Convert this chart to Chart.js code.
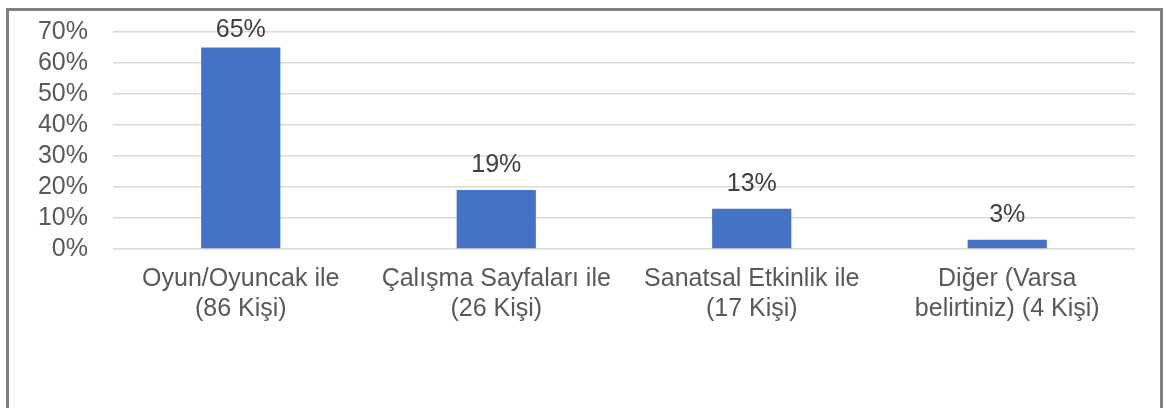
<!DOCTYPE html>
<html>
<head>
<meta charset="utf-8">
<script src="https://cdn.jsdelivr.net/npm/chart.js@4"></script>
<style>
  body { margin: 0; background: #fff; }
  #wrap { position: relative; width: 1168px; height: 408px; }
  #frame { position: absolute; left: 6px; top: 8px; width: 1151px; height: 420px; border: 3px solid #7f7f7f; pointer-events: none; }
</style>
</head>
<body>
<div id="wrap">
  <canvas id="myChart" width="1168" height="408"></canvas>
  <div id="frame"></div>
</div>
<script>
// kategoriler ve yuzdeler
var categories = [
  ['Oyun/Oyuncak ile', '(86 Kişi)'],
  ['Çalışma Sayfaları ile', '(26 Kişi)'],
  ['Sanatsal Etkinlik ile', '(17 Kişi)'],
  ['Diğer (Varsa', 'belirtiniz) (4 Kişi)']
];
var percents = [65, 19, 13, 3];
var yTicks = [0, 10, 20, 30, 40, 50, 60, 70];

var fontFam = '"Liberation Sans", Arial, sans-serif';

// bar ustune yuzde yaz
var valueLabels = {
  id: 'valueLabels',
  afterDatasetsDraw(chart) {
    var ctx = chart.ctx;
    var meta = chart.getDatasetMeta(0);
    ctx.save();
    ctx.font = '25px ' + fontFam;
    ctx.fillStyle = '#404040';
    ctx.textAlign = 'center';
    ctx.textBaseline = 'alphabetic';
    meta.data.forEach(function (bar, i) {
      var y = Math.max(bar.y - 18, chart.chartArea.top + 5);
      ctx.fillText(percents[i] + '%', bar.x, y);
    });
    ctx.restore();
  }
};

var ctx = document.getElementById('myChart').getContext('2d');
var myChart = new Chart(ctx, {
  type: 'bar',
  data: {
    labels: categories,
    datasets: [{
      data: percents,
      backgroundColor: '#4472C4',
      categoryPercentage: 1,
      barPercentage: 0.31
    }]
  },
  options: {
    responsive: false,
    animation: false,
    layout: { padding: { left: 0, top: 32, right: 33, bottom: 0 } },
    plugins: {
      legend: { display: false },
      tooltip: { enabled: false }
    },
    scales: {
      x: {
        grid: { display: false, drawTicks: false },
        border: { display: false },
        ticks: {
          color: '#595959',
          font: { family: fontFam, size: 25, lineHeight: 1.2 },
          padding: 15,
          maxRotation: 0,
          autoSkip: false
        },
        afterFit: function (s) { s.height = 159; }
      },
      y: {
        min: 0,
        max: 70,
        afterBuildTicks: function (s) { s.ticks = yTicks.map(function (v) { return { value: v }; }); },
        grid: { color: '#d9d9d9', lineWidth: 1.5, drawTicks: false },
        border: { display: false },
        ticks: {
          color: '#595959',
          font: { family: fontFam, size: 25 },
          padding: 25,
          autoSkip: false,
          callback: function (v) { return v + '%'; }
        },
        afterFit: function (s) {
          s.width = 113;
          s.paddingTop = 0;
          s.paddingBottom = 0;
        }
      }
    }
  },
  plugins: [valueLabels]
});
</script>
</body>
</html>
